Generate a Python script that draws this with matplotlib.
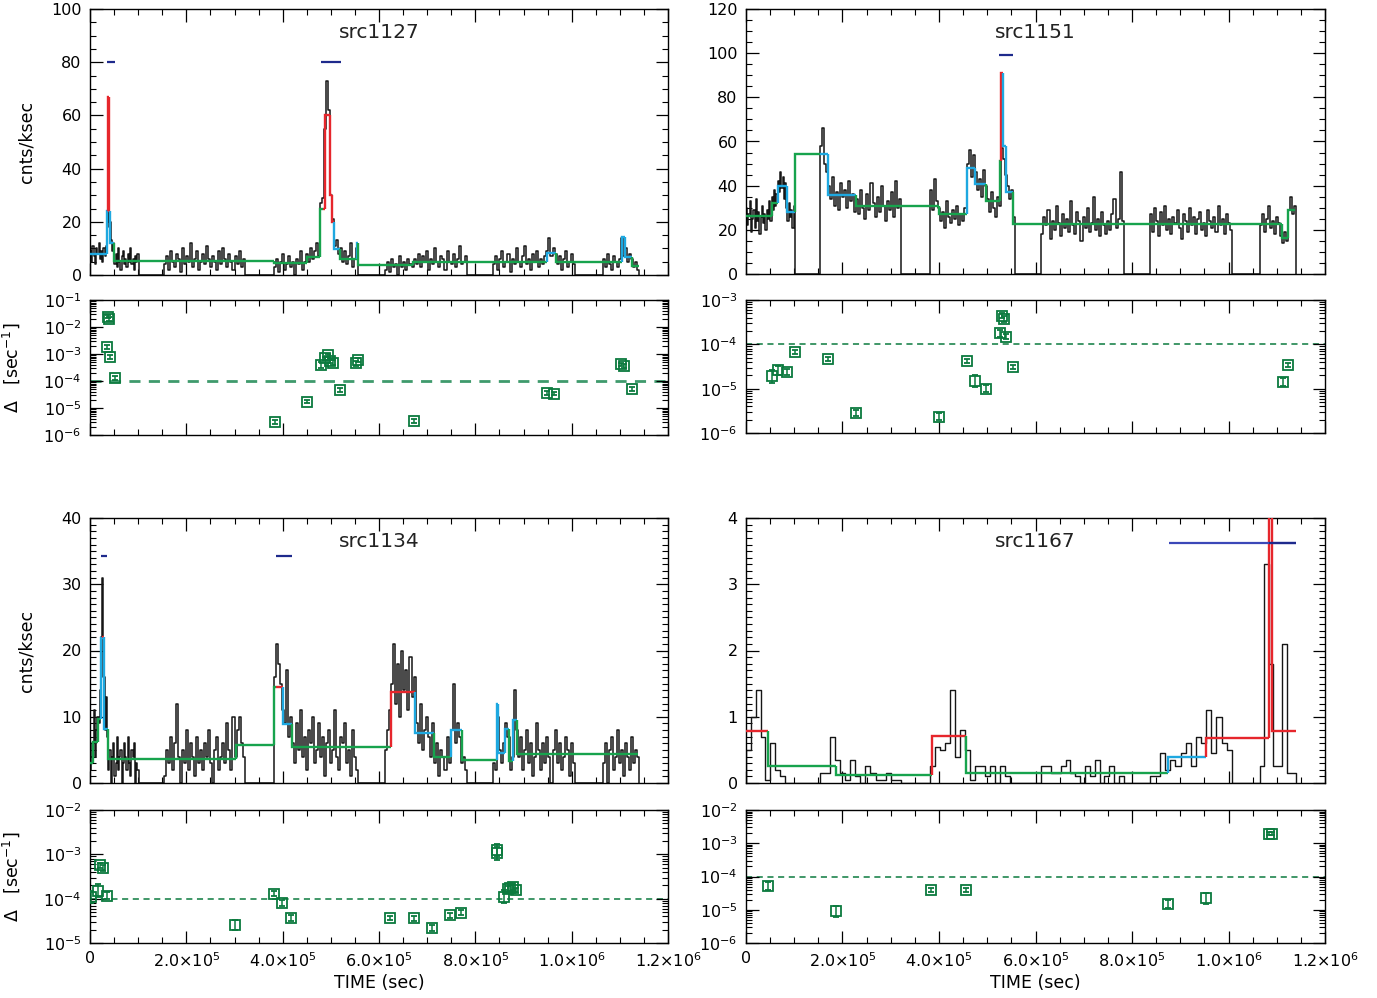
import numpy as np
import matplotlib
matplotlib.use("Agg")
import matplotlib.pyplot as plt
from matplotlib.ticker import MultipleLocator, LogLocator, NullFormatter

plt.rcParams['font.family'] = ['DejaVu Sans']
plt.rcParams['mathtext.fontset'] = 'dejavusans'

# ---------------- shared data ----------------
XTICKS = [0, 2e5, 4e5, 6e5, 8e5, 1.0e6, 1.2e6]
XTICKLABELS = ['0', '2.0×10$^5$', '4.0×10$^5$', '6.0×10$^5$', '8.0×10$^5$',
               '1.0×10$^6$', '1.2×10$^6$']
SEG_START = [0, 1.53e5, 3.82e5, 6.12e5, 8.37e5, 1.065e6]
SEG_END = [1.01e5, 3.21e5, 5.57e5, 7.83e5, 1.007e6, 1.14e6]
THRESH = 1e-4

# ---------------- src1127 ----------------
LC_1127 = [
    [9, 5, 11, 7, 4, 10, 8, 12, 6, 9, 5, 10, 7, 11, 18, 26, 20, 13, 9, 12, 4, 8, 3, 10, 5, 2, 7, 9, 4, 6, 3, 8, 5, 10, 4, 6, 2, 7, 5, 8],
    [4, 7, 2, 9, 5, 3, 8, 6, 1, 10, 4, 7, 5, 12, 3, 6, 9, 2, 5, 8, 4, 11, 6, 3, 7, 5, 2, 9, 4, 10, 6, 3, 8, 5, 2, 7, 4, 9, 3, 6],
    [3, 6, 1, 5, 8, 2, 4, 7, 3, 5, 0, 6, 4, 9, 2, 5, 8, 5, 10, 6, 9, 12, 7, 27, 29, 55, 73, 62, 30, 21, 11, 13, 8, 10, 5, 9, 4, 7, 12, 3, 6, 10],
    [2, 5, 1, 6, 3, 4, 0, 7, 3, 5, 2, 6, 4, 3, 6, 4, 8, 3, 7, 5, 9, 2, 6, 4, 10, 5, 3, 7, 6, 2, 9, 5, 4, 8, 3, 6, 11, 4, 5, 7],
    [4, 7, 2, 6, 9, 3, 5, 8, 1, 6, 4, 10, 5, 3, 7, 11, 4, 6, 2, 8, 5, 9, 3, 6, 4, 7, 9, 14, 7, 10, 8, 4, 7, 2, 6, 9, 3, 5, 8, 4],
    [6, 3, 8, 4, 2, 7, 5, 3, 6, 14, 7, 10, 5, 8, 6, 3, 5, 2],
]
BLK_EDGES_1127 = [0, 3.6e4, 3.8e4, 3.95e4, 4.2e4, 5.0e4, 3.81e5, 4.5e5, 4.77e5, 4.84e5, 4.88e5,
                  4.98e5, 5.03e5, 5.07e5, 5.18e5, 5.55e5, 5.57e5, 6.71e5, 9.48e5, 9.67e5,
                  1.104e6, 1.111e6, 1.125e6, 1.139e6]
BLK_VALS_1127 = [7.9, 24, 67, 24, 12, 5.4, 4.4, 6.9, 25, 25, 60, 30, 20, 9.7, 6.0, 12, 3.8,
                 5.0, 8.3, 5.0, 14.3, 6.7, 3.4]
BLK_COLS_1127 = ['c', 'c', 'r', 'r', 'c', 'g', 'g', 'g', 'g', 'r', 'r', 'r', 'r', 'c', 'g', 'c',
                 'g', 'g', 'c', 'g', 'c', 'c', 'g']
BAR_T0_1127 = [3.5e4, 4.8e5]
BAR_T1_1127 = [5.2e4, 5.21e5]
BAR_Y_1127 = [80, 80]
D_T_1127 = [3.5e4, 3.7e4, 3.9e4, 4.2e4, 5.2e4, 3.84e5, 4.5e5, 4.8e5, 4.88e5, 4.94e5, 4.98e5,
            5.04e5, 5.19e5, 5.52e5, 5.56e5, 6.73e5, 9.49e5, 9.63e5, 1.102e6, 1.109e6, 1.125e6]
D_V_1127 = [1.8e-3, 2.4e-2, 2.0e-2, 7.8e-4, 1.3e-4, 3.0e-6, 1.7e-5, 3.9e-4, 7.0e-4, 9.0e-4,
            5.5e-4, 4.8e-4, 4.6e-5, 4.5e-4, 6.0e-4, 3.3e-6, 3.6e-5, 3.4e-5, 4.2e-4, 3.6e-4, 5.0e-5]
D_E_1127 = [0.15, 0.15, 0.15, 0.15, 0.15, 0.15, 0.15, 0.25, 0.15, 0.15, 0.15, 0.25, 0.15,
            0.25, 0.15, 0.15, 0.15, 0.15, 0.15, 0.2, 0.15]

# ---------------- src1151 ----------------
LC_1151 = [
    [30, 22, 27, 33, 19, 25, 29, 21, 34, 24, 28, 18, 26, 31, 23, 27, 20, 29, 25, 33, 24, 35, 29, 38, 31, 36, 42, 37, 46, 39, 44, 34, 41, 30, 24, 32, 26, 29, 21, 31],
    [58, 66, 50, 46, 40, 34, 44, 31, 37, 29, 41, 35, 38, 30, 42, 33, 36, 28, 34, 27, 38, 30, 25, 36, 29, 41, 32, 26, 35, 28, 40, 31, 24, 33, 29, 37, 26, 42, 30, 34],
    [38, 29, 43, 33, 30, 24, 28, 21, 33, 26, 23, 29, 25, 31, 22, 27, 24, 30, 50, 56, 44, 54, 46, 38, 43, 35, 47, 40, 34, 28, 37, 30, 26, 35, 31, 57, 52, 45, 40, 34, 38, 26],
    [18, 26, 22, 29, 16, 24, 20, 31, 23, 17, 27, 21, 25, 19, 33, 22, 18, 28, 24, 15, 26, 21, 30, 19, 23, 35, 20, 25, 17, 28, 22, 18, 24, 20, 27, 34, 21, 25, 46, 24],
    [27, 19, 30, 24, 17, 28, 22, 31, 20, 25, 18, 26, 23, 29, 21, 16, 27, 24, 19, 30, 22, 26, 18, 25, 28, 20, 23, 17, 29, 24, 21, 26, 19, 31, 22, 25, 18, 27, 23, 20],
    [22, 27, 19, 25, 31, 21, 24, 18, 26, 23, 17, 14, 19, 15, 29, 35, 27, 31],
]
BLK_EDGES_1151 = [0, 5.4e4, 6.6e4, 8.4e4, 1.02e5, 1.54e5, 1.7e5, 2.28e5, 4.01e5, 4.57e5, 4.74e5,
                  4.98e5, 5.26e5, 5.29e5, 5.32e5, 5.38e5, 5.54e5, 1.11e6, 1.124e6, 1.138e6]
BLK_VALS_1151 = [26.2, 32, 39.8, 28.2, 54.2, 54.2, 35.7, 30.9, 27.1, 48.1, 40.7, 33.2, 51.3, 91,
                 58, 37.3, 22.6, 16.5, 28.8]
BLK_COLS_1151 = ['g', 'g', 'c', 'c', 'g', 'c', 'c', 'g', 'g', 'c', 'c', 'g', 'g', 'r', 'c', 'c',
                 'g', 'g', 'g']
BAR_T0_1151 = [5.25e5]
BAR_T1_1151 = [5.54e5]
BAR_Y_1151 = [99]
D_T_1151 = [5.4e4, 6.6e4, 8.4e4, 1.02e5, 1.7e5, 2.28e5, 4.01e5, 4.57e5, 4.74e5, 4.98e5, 5.27e5,
            5.31e5, 5.35e5, 5.39e5, 5.54e5, 1.112e6, 1.124e6]
D_V_1151 = [1.9e-5, 2.6e-5, 2.4e-5, 6.7e-5, 4.6e-5, 2.8e-6, 2.3e-6, 4.2e-5, 1.5e-5, 1.0e-5,
            1.8e-4, 4.4e-4, 3.7e-4, 1.5e-4, 3.1e-5, 1.4e-5, 3.4e-5]
D_E_1151 = [0.4, 0.25, 0.15, 0.12, 0.12, 0.15, 0.2, 0.12, 0.35, 0.2, 0.2, 0.15, 0.15, 0.15,
            0.12, 0.25, 0.12]

# ---------------- src1134 ----------------
LC_1134 = [
    [2, 4, 6, 11, 4, 8, 10, 9, 14, 22, 31, 16, 8, 13, 7, 2, 5, 0, 4, 6, 1, 3, 7, 2, 4, 5, 0, 3, 6, 4, 2, 7, 3, 1, 5, 4, 6, 0, 3, 2],
    [1, 5, 3, 7, 2, 6, 12, 4, 0, 5, 3, 8, 2, 6, 4, 1, 7, 3, 5, 2, 6, 4, 8, 3, 0, 5, 7, 2, 4, 6, 3, 9, 5, 2, 10, 4, 8, 10, 6, 4],
    [16, 21, 18, 15, 11, 9, 17, 7, 10, 6, 3, 9, 5, 11, 4, 7, 2, 8, 6, 10, 3, 5, 9, 4, 7, 1, 6, 8, 3, 5, 11, 4, 2, 7, 6, 9, 3, 5, 1, 8, 4, 2],
    [5, 8, 11, 15, 21, 12, 18, 10, 20, 14, 17, 11, 19, 13, 16, 9, 6, 12, 5, 8, 10, 7, 4, 9, 3, 6, 1, 5, 4, 2, 7, 3, 8, 15, 6, 9, 7, 3, 4, 2],
    [3, 2, 10, 5, 3, 6, 9, 7, 2, 4, 14, 8, 4, 7, 2, 5, 8, 3, 6, 1, 4, 9, 5, 2, 6, 3, 7, 4, 0, 5, 8, 3, 6, 2, 4, 7, 5, 1, 6, 3],
    [3, 6, 0, 5, 7, 2, 4, 8, 3, 5, 1, 6, 4, 2, 7, 3, 5, 4],
]
BLK_EDGES_1134 = [0, 5.5e3, 1.7e4, 2.2e4, 2.6e4, 3.0e4, 3.8e4, 3.04e5, 3.83e5, 3.86e5, 4.0e5,
                  4.2e5, 6.24e5, 6.74e5, 7.14e5, 7.5e5, 7.73e5, 8.45e5, 8.48e5, 8.61e5, 8.69e5,
                  8.78e5, 8.86e5, 1.138e6]
BLK_VALS_1134 = [3.0, 6.2, 9.6, 21.9, 22, 8.1, 3.6, 5.7, 14.5, 14.5, 8.9, 5.5, 13.75, 7.6, 3.95,
                 7.95, 3.4, 12, 4.5, 8.2, 3.25, 9.45, 4.45]
BLK_COLS_1134 = ['g', 'g', 'g', 'c', 'r', 'c', 'g', 'g', 'g', 'r', 'c', 'g', 'r', 'c', 'g', 'c',
                 'g', 'c', 'c', 'c', 'g', 'c', 'g']
BAR_T0_1134 = [2.3e4, 3.87e5]
BAR_T1_1134 = [3.6e4, 4.2e5]
BAR_Y_1134 = [34.2, 34.2]
D_T_1134 = [1.9e3, 1.6e4, 2.0e4, 2.7e4, 3.5e4, 3.02e5, 3.83e5, 3.98e5, 4.18e5, 6.23e5, 6.72e5,
            7.1e5, 7.48e5, 7.7e5, 8.44e5, 8.46e5, 8.6e5, 8.67e5, 8.72e5, 8.79e5, 8.85e5]
D_V_1134 = [1.1e-4, 1.5e-4, 5.6e-4, 4.9e-4, 1.15e-4, 2.5e-5, 1.3e-4, 8.0e-5, 3.7e-5, 3.7e-5,
            3.6e-5, 2.2e-5, 4.2e-5, 4.8e-5, 1.25e-3, 1.05e-3, 1.1e-4, 1.65e-4, 1.75e-4, 1.8e-4,
            1.55e-4]
D_E_1134 = [0.35, 0.4, 0.15, 0.15, 0.2, 0.3, 0.15, 0.15, 0.15, 0.12, 0.12, 0.15, 0.15, 0.15,
            0.35, 0.4, 0.4, 0.15, 0.15, 0.15, 0.15]

# ---------------- src1167 ----------------
LC_1167 = [
    [0.5, 1.0, 1.4, 0.7, 0.05, 0.6, 0.2, 0.1, 0.0, 0.0],
    [0.15, 0.15, 0.7, 0.35, 0.15, 0.05, 0.35, 0.1, 0.0, 0.25, 0.15, 0.05, 0.05, 0.15, 0.05, 0.05],
    [0.25, 0.55, 0.5, 0.6, 1.4, 0.4, 0.8, 0.5, 0.05, 0.25, 0.25, 0.1, 0.25, 0.0, 0.25, 0.1, 0.0],
    [0.25, 0.25, 0.15, 0.15, 0.25, 0.35, 0.15, 0.1, 0.0, 0.25, 0.1, 0.35, 0.0, 0.1, 0.25, 0.0, 0.1],
    [0.1, 0.1, 0.45, 0.2, 0.35, 0.25, 0.45, 0.6, 0.25, 0.7, 0.6, 1.1, 0.45, 1.0, 0.6, 0.5],
    [0.25, 3.3, 1.8, 0.25, 0.25, 2.1, 0.15, 0.15],
]
BLK_EDGES_1167 = [0, 4.5e4, 1.86e5, 3.85e5, 4.56e5, 8.74e5, 9.54e5, 1.084e6, 1.091e6, 1.14e6]
BLK_VALS_1167 = [0.78, 0.26, 0.12, 0.71, 0.15, 0.4, 0.68, 20.0, 0.78]
BLK_COLS_1167 = ['r', 'g', 'g', 'r', 'g', 'c', 'r', 'r', 'r']
BAR_T0_1167 = [8.76e5, 1.084e6]
BAR_T1_1167 = [1.14e6, 1.14e6]
BAR_Y_1167 = [3.63, 3.63]
D_T_1167 = [4.6e4, 1.86e5, 3.83e5, 4.56e5, 8.74e5, 9.53e5, 1.084e6, 1.091e6]
D_V_1167 = [5.2e-5, 8.9e-6, 4.0e-5, 3.8e-5, 1.5e-5, 2.2e-5, 1.95e-3, 1.95e-3]
D_E_1167 = [0.3, 0.5, 0.15, 0.15, 0.3, 0.45, 0.1, 0.1]

# ---------------- styling ----------------
COLORS = {'g': '#17a34d', 'c': '#1ea8e0', 'r': '#e6262c'}
BLACK = '#151515'
DGREEN = '#0b7a3e'
NAVY = '#1e2a8c'

W, H = 1377, 998


def fig_rect(x0, y0, x1, y1):
    return [x0 / W, 1 - y1 / H, (x1 - x0) / W, (y1 - y0) / H]


def style(ax):
    ax.set_xlim(0, 1.2e6)
    ax.xaxis.set_major_locator(plt.FixedLocator(XTICKS))
    ax.xaxis.set_minor_locator(MultipleLocator(5e4))
    ax.tick_params(which='both', direction='in', top=True, right=True,
                   labelsize=11.5, colors='black')
    ax.tick_params(which='major', length=9, width=0.9, pad=6)
    ax.tick_params(which='minor', length=4.5, width=0.8)
    for s in ax.spines.values():
        s.set_linewidth(1.0)


def draw_lc(ax, lc, hist=False):
    ts, ys = [], []
    for s, e, vals in zip(SEG_START, SEG_END, lc):
        n = len(vals)
        if hist:
            edges = np.linspace(s, e, n + 1)
            ts += [s] + list(np.repeat(edges, 2)[1:-1]) + [e]
            ys += [0] + list(np.repeat(vals, 2)) + [0]
        else:
            c = s + (e - s) * (np.arange(n) + 0.5) / n
            ts += [s, s] + list(c) + [e, e]
            ys += [0, vals[0]] + list(vals) + [vals[-1], 0]
    if hist:
        ax.plot(ts, ys, color=BLACK, lw=1.0, zorder=2)
    else:
        ax.plot(ts, ys, color=BLACK, lw=1.1, zorder=2, drawstyle='steps-mid')


def draw_blocks(ax, edges, vals, cols):
    prev = None
    for i, v in enumerate(vals):
        xs = [edges[i], edges[i + 1]]
        ys = [v, v]
        if prev is not None:
            xs = [edges[i]] + xs
            ys = [prev] + ys
        ax.plot(xs, ys, color=COLORS[cols[i]], lw=1.7, zorder=3,
                solid_joinstyle='miter', solid_capstyle='butt')
        prev = v


def draw_delta(ax, t, v, e, ylim, dash_lw, dash_col):
    ax.set_yscale('log')
    ax.set_ylim(*ylim)
    v = np.array(v)
    e = np.array(e)
    lo = v - v / (1 + e)
    hi = v * e
    ax.axhline(THRESH, color=dash_col, lw=dash_lw, ls=(0, (4, 3)), zorder=1)
    ax.errorbar(t, v, yerr=[lo, hi], fmt='s', mfc='none', mec=DGREEN, ecolor=DGREEN,
                ms=6.5, mew=1.3, elinewidth=1.1, capsize=2.5, capthick=1.1, zorder=3)
    ax.yaxis.set_major_locator(LogLocator(base=10, numticks=20))
    ax.yaxis.set_minor_locator(LogLocator(base=10, subs=np.arange(2, 10), numticks=20))
    ax.yaxis.set_minor_formatter(NullFormatter())


fig = plt.figure(figsize=(W / 100, H / 100), dpi=100)

panels = [
    dict(name='src1127', lc=LC_1127, hist=False, be=BLK_EDGES_1127, bv=BLK_VALS_1127,
         bc=BLK_COLS_1127, bt0=BAR_T0_1127, bt1=BAR_T1_1127, by=BAR_Y_1127,
         dt=D_T_1127, dv=D_V_1127, de=D_E_1127, ylim=(0, 100), ymaj=20, ymin=5,
         dylim=(1e-6, 1e-1), main=(90, 9, 668, 275), delta=(90, 300, 668, 435),
         left=True, bottom=False, dash=(2.0, '#3f9a6c')),
    dict(name='src1151', lc=LC_1151, hist=False, be=BLK_EDGES_1151, bv=BLK_VALS_1151,
         bc=BLK_COLS_1151, bt0=BAR_T0_1151, bt1=BAR_T1_1151, by=BAR_Y_1151,
         dt=D_T_1151, dv=D_V_1151, de=D_E_1151, ylim=(0, 120), ymaj=20, ymin=5,
         dylim=(1e-6, 1e-3), main=(746, 9, 1325, 274), delta=(746, 300, 1325, 433),
         left=False, bottom=False, dash=(1.1, DGREEN)),
    dict(name='src1134', lc=LC_1134, hist=False, be=BLK_EDGES_1134, bv=BLK_VALS_1134,
         bc=BLK_COLS_1134, bt0=BAR_T0_1134, bt1=BAR_T1_1134, by=BAR_Y_1134,
         dt=D_T_1134, dv=D_V_1134, de=D_E_1134, ylim=(0, 40), ymaj=10, ymin=1,
         dylim=(1e-5, 1e-2), main=(90, 518, 668, 783), delta=(90, 810, 668, 943),
         left=True, bottom=True, dash=(1.1, DGREEN)),
    dict(name='src1167', lc=LC_1167, hist=True, be=BLK_EDGES_1167, bv=BLK_VALS_1167,
         bc=BLK_COLS_1167, bt0=BAR_T0_1167, bt1=BAR_T1_1167, by=BAR_Y_1167,
         dt=D_T_1167, dv=D_V_1167, de=D_E_1167, ylim=(0, 4), ymaj=1, ymin=0.1,
         dylim=(1e-6, 1e-2), main=(746, 518, 1325, 783), delta=(746, 810, 1325, 943),
         left=False, bottom=True, dash=(1.1, DGREEN)),
]

for p in panels:
    ax = fig.add_axes(fig_rect(*p['main']))
    style(ax)
    draw_lc(ax, p['lc'], hist=p['hist'])
    draw_blocks(ax, p['be'], p['bv'], p['bc'])
    bar_cols = [NAVY] if len(p['by']) == 1 else ([NAVY, NAVY] if p['name'] != 'src1167'
                                                 else ['#3b48b8', NAVY])
    for t0, t1, yb, bcol in zip(p['bt0'], p['bt1'], p['by'], bar_cols):
        ax.plot([t0, t1], [yb, yb], color=bcol, lw=1.6, zorder=4, solid_capstyle='butt')
    ax.set_ylim(*p['ylim'])
    ax.yaxis.set_major_locator(MultipleLocator(p['ymaj']))
    ax.yaxis.set_minor_locator(MultipleLocator(p['ymin']))
    ax.tick_params(labelbottom=False)
    ax.text(0.5, 0.91, p['name'], transform=ax.transAxes, ha='center', va='center',
            fontsize=14.5, color='#222222')
    if p['left']:
        ax.set_ylabel('cnts/ksec', fontsize=12.5)
        ax.yaxis.set_label_coords(-0.095, 0.5)

    axd = fig.add_axes(fig_rect(*p['delta']))
    style(axd)
    draw_delta(axd, p['dt'], p['dv'], p['de'], p['dylim'], p['dash'][0], p['dash'][1])
    if p['bottom']:
        axd.set_xticklabels(XTICKLABELS)
        axd.set_xlabel('TIME (sec)', fontsize=12.5, labelpad=3)
    else:
        axd.tick_params(labelbottom=False)
    if p['left']:
        axd.set_ylabel('Δ   [sec$^{-1}$]', fontsize=12.5)
        axd.yaxis.set_label_coords(-0.118, 0.5)

fig.savefig('out.png', dpi=100)
